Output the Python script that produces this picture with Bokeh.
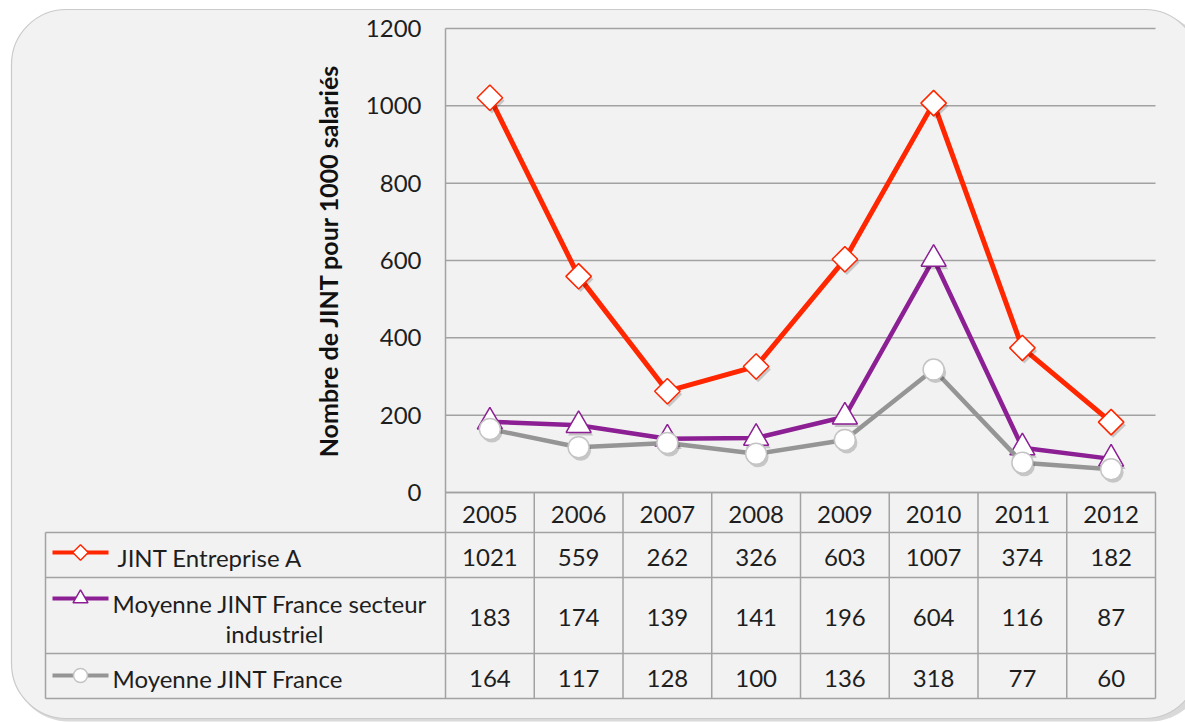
import math
from bokeh.plotting import figure
from bokeh.models import Range1d, LinearAxis, FixedTicker, BoxAnnotation
from bokeh.core.properties import value
from bokeh.embed import file_html
from bokeh.resources import INLINE

# ---------------- data ----------------
years = ["2005", "2006", "2007", "2008", "2009", "2010", "2011", "2012"]
jint_entreprise_a = [1021, 559, 262, 326, 603, 1007, 374, 182]
jint_secteur_industriel = [183, 174, 139, 141, 196, 604, 116, 87]
jint_france = [164, 117, 128, 100, 136, 318, 77, 60]
y_ticks = [0, 200, 400, 600, 800, 1000, 1200]
y_label = "Nombre de JINT pour 1000 salariés"

# ---------------- layout ----------------
W, H = 1185, 722
L, R, T, B = 445, 1155, 28, 492          # plot area in canvas pixels
n = len(years)
colw = (R - L) / n
ymax = y_ticks[-1]
k = ymax / (B - T)
TL = 45                                   # table left edge
rows = [492, 532, 577, 653, 698]          # table horizontal lines
FONT = value("Lato")
FS = "24px"
TXT = "#1e1e1e"
GRID = "#a2a2a2"

p = figure(width=W, height=H, x_range=Range1d(0, W), y_range=Range1d(H, 0),
           output_backend="svg", toolbar_location=None, min_border=0,
           x_axis_location=None, y_axis_location=None,
           outline_line_color=None, background_fill_color="white",
           border_fill_color="white")
p.grid.visible = False
p.extra_x_ranges = {"cat": Range1d(-0.5 - L / colw, -0.5 + (W - L) / colw)}
p.extra_y_ranges = {"val": Range1d(-(H - B) * k, ymax + T * k)}

# background rounded panel with shadow
p.add_layout(BoxAnnotation(left=13, right=W + 20, top=12, bottom=721, border_radius=55,
                           fill_color="#d9d9d9", fill_alpha=1.0, line_color=None, level="underlay"))
p.add_layout(BoxAnnotation(left=11, right=W + 14, top=9, bottom=718, border_radius=55,
                           fill_color="#f2f2f2", fill_alpha=1.0, line_color="#cacaca",
                           line_alpha=1.0, line_width=1.2, level="underlay"))

# y axis
yax = LinearAxis(y_range_name="val", fixed_location=L, ticker=FixedTicker(ticks=y_ticks),
                 bounds=(0, ymax), axis_label=y_label)
yax.major_tick_in = 0
yax.major_tick_out = 0
yax.minor_tick_in = 0
yax.minor_tick_out = 0
yax.axis_line_color = GRID
yax.axis_line_width = 1.5
yax.major_label_text_font = "Lato"
yax.major_label_text_font_size = FS
yax.major_label_text_color = TXT
yax.major_label_standoff = 24
yax.axis_label_text_font = "Lato"
yax.axis_label_text_font_style = "bold"
yax.axis_label_text_font_size = "25px"
yax.axis_label_text_color = "#111111"
yax.axis_label_standoff = 20
p.add_layout(yax, "left")

# horizontal gridlines
p.segment(x0=-0.5, x1=n - 0.5, y0=y_ticks, y1=y_ticks, x_range_name="cat", y_range_name="val",
          line_color=GRID, line_width=1.5)

# ---------------- table ----------------
p.segment(x0=[L] + [TL] * 4, x1=[R] * 5, y0=rows, y1=rows, line_color=GRID, line_width=1.5)
p.segment(x0=[TL, L], x1=[TL, L], y0=[rows[1], rows[0]], y1=[rows[-1], rows[-1]],
          line_color=GRID, line_width=1.5)
col_edges = [i + 0.5 for i in range(n)]
p.segment(x0=col_edges, x1=col_edges, y0=rows[0], y1=rows[-1], x_range_name="cat",
          line_color=GRID, line_width=1.5)

xs = list(range(n))
row_mid = [(rows[i] + rows[i + 1]) / 2 + 2 for i in range(4)]
for ri, vals in enumerate([years, jint_entreprise_a, jint_secteur_industriel, jint_france]):
    p.text(x=xs, y=[row_mid[ri]] * n, text=[str(v) for v in vals], x_range_name="cat",
           text_font=FONT, text_font_size=FS, text_color=TXT,
           text_align="center", text_baseline="middle")

# legend labels
p.text(x=[117], y=[row_mid[1]], text=["JINT Entreprise A"], text_font=FONT,
       text_font_size=FS, text_color=TXT, text_align="left", text_baseline="middle")
p.text(x=[112], y=[603], text=["Moyenne JINT France secteur"], text_font=FONT,
       text_font_size=FS, text_color=TXT, text_align="left", text_baseline="middle")
p.text(x=[274], y=[633], text=["industriel"], text_font=FONT,
       text_font_size=FS, text_color=TXT, text_align="center", text_baseline="middle")
p.text(x=[112], y=[row_mid[3]], text=["Moyenne JINT France"], text_font=FONT,
       text_font_size=FS, text_color=TXT, text_align="left", text_baseline="middle")

# ---------------- series ----------------
series = [
    dict(vals=jint_entreprise_a, color="#ff2600", marker="square", angle=math.pi / 4, size=18,
         edge="#ff2600", lw=5, leg_y=552, leg_size=11),
    dict(vals=jint_secteur_industriel, color="#8b1f93", marker="triangle", angle=0, size=25,
         edge="#8b1f93", lw=4.5, leg_y=598, leg_size=15),
    dict(vals=jint_france, color="#959595", marker="circle", angle=0, size=21,
         edge="#c4c4c4", lw=4.5, leg_y=675, leg_size=14),
]
dx = 2 / colw
dy = 3 * k
for s in series:
    p.line(x=xs, y=s["vals"], x_range_name="cat", y_range_name="val",
           line_color=s["color"], line_width=s["lw"], line_join="round")
    p.scatter(x=[x + dx for x in xs], y=[v - dy for v in s["vals"]], x_range_name="cat",
              y_range_name="val", marker=s["marker"], angle=s["angle"], size=s["size"],
              fill_color="black", fill_alpha=0.18, line_color=None)
    p.scatter(x=xs, y=s["vals"], x_range_name="cat", y_range_name="val",
              marker=s["marker"], angle=s["angle"], size=s["size"],
              fill_color="white", line_color=s["edge"], line_width=1.5)
    # legend key in table
    p.line(x=[52, 108], y=[s["leg_y"]] * 2, line_color=s["color"], line_width=4)
    p.scatter(x=[80], y=[s["leg_y"]], marker=s["marker"], angle=s["angle"], size=s["leg_size"],
              fill_color="white", line_color=s["edge"], line_width=1.5)

open("out.html", "w").write(file_html(p, INLINE))
